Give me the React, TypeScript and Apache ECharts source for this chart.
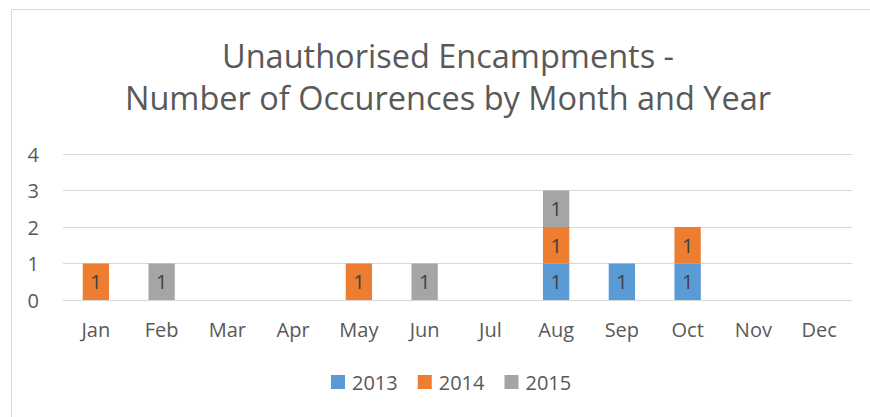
import React, { useEffect, useRef } from "react";
import * as echarts from "echarts";

const months = ["Jan", "Feb", "Mar", "Apr", "May", "Jun", "Jul", "Aug", "Sep", "Oct", "Nov", "Dec"];
const s2013 = [null, null, null, null, null, null, null, 1, 1, 1, null, null];
const s2014 = [1, null, null, null, 1, null, null, 1, null, 1, null, null];
const s2015 = [null, 1, null, null, null, 1, null, 1, null, null, null, null];
const yTicks = [0, 1, 2, 3, 4];

const FONT = "'Open Sans', sans-serif";

export default function App() {
  const ref = useRef<HTMLDivElement>(null);
  useEffect(() => {
    const chart = echarts.init(ref.current!, null, { renderer: "svg" });
    const mk = (name: string, data: (number | null)[], color: string) => ({
      name,
      type: "bar",
      stack: "total",
      data,
      barWidth: "40%",
      itemStyle: { color },
      label: {
        show: true,
        position: "inside",
        color: "#404040",
        fontFamily: FONT,
        fontSize: 20,
      },
    });
    chart.setOption({
      animation: false,
      backgroundColor: "#ffffff",
      graphic: [
        {
          type: "rect",
          shape: { x: 11.5, y: 9.5, width: 880, height: 430 },
          style: { fill: "none", stroke: "#d9d9d9", lineWidth: 1 },
          silent: true,
        },
      ],
      title: {
        text: "Unauthorised Encampments -\nNumber of Occurences by Month and Year",
        left: 443,
        top: 29,
        textAlign: "center",
        textStyle: {
          fontFamily: FONT,
          fontSize: 32.5,
          fontWeight: "normal",
          color: "#595959",
          lineHeight: 42,
        },
      },
      legend: {
        bottom: 20,
        left: 326,
        itemWidth: 14,
        itemHeight: 14,
        itemGap: 20,
        icon: "rect",
        textStyle: { fontFamily: FONT, fontSize: 20, color: "#595959", padding: [0, 0, 0, 2] },
      },
      grid: { left: 63, right: 18, top: 154, bottom: 117, containLabel: false },
      xAxis: {
        type: "category",
        data: months,
        axisLine: { lineStyle: { color: "#d9d9d9", width: 1 } },
        axisTick: { show: false },
        axisLabel: { fontFamily: FONT, fontSize: 20, color: "#595959", margin: 19 },
      },
      yAxis: {
        type: "value",
        min: yTicks[0],
        max: yTicks[yTicks.length - 1],
        interval: 1,
        axisLine: { show: false },
        axisTick: { show: false },
        splitLine: { lineStyle: { color: "#d9d9d9", width: 1 } },
        axisLabel: { fontFamily: FONT, fontSize: 20, color: "#595959", margin: 24 },
      },
      series: [
        mk("2013", s2013, "#5b9bd5"),
        mk("2014", s2014, "#ed7d31"),
        mk("2015", s2015, "#a5a5a5"),
      ],
    });
    return () => chart.dispose();
  }, []);
  return (
    <div
      ref={ref}
      style={{ position: "fixed", left: 0, top: 0, width: 870, height: 417 }}
    />
  );
}
